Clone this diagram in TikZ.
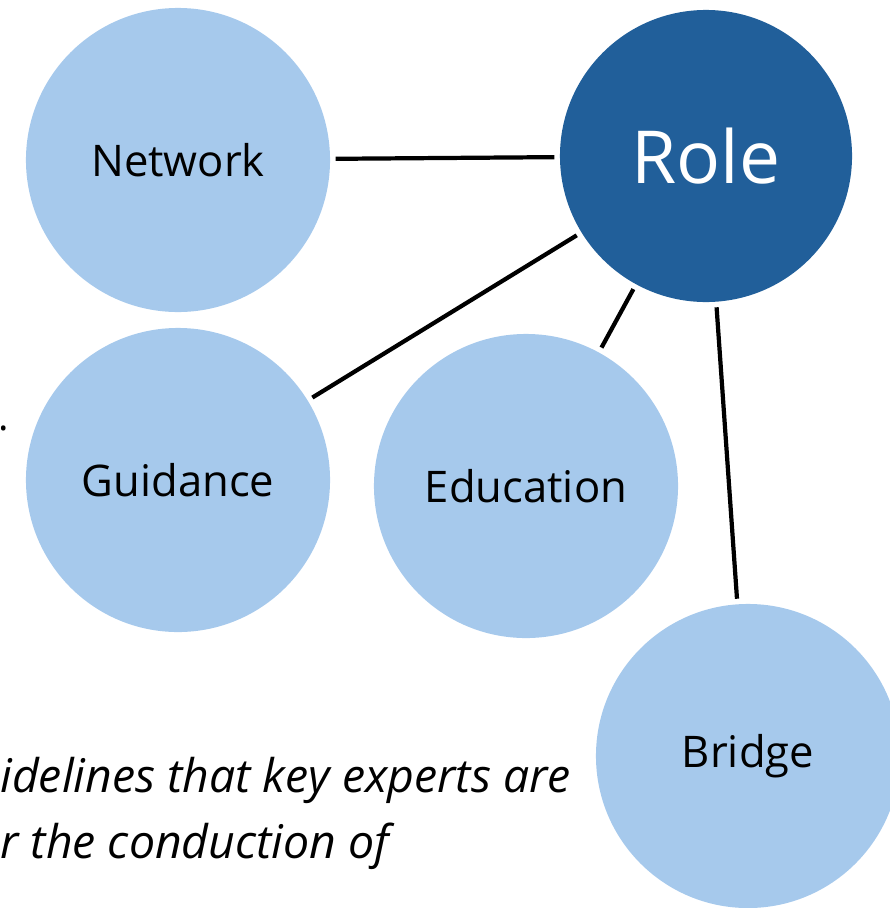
\documentclass[tikz,border=0pt]{standalone}
\usepackage{fontspec}
\setmainfont{Open Sans}
\usetikzlibrary{positioning,calc}

\definecolor{lightblue}{HTML}{A6C9EC}
\definecolor{darkblue}{HTML}{215F9A}

\begin{document}
\begin{tikzpicture}[x=0.025cm, y=-0.025cm, semithick]
        \tikzstyle{topic}=[circle, fill=lightblue, minimum size=7.6cm, inner sep=0pt, outer sep=4pt, text=black, font=\fontsize{31}{36}\selectfont]
        \tikzstyle{hub}=[circle, fill=darkblue, minimum size=7.3cm, inner sep=0pt, outer sep=4pt, text=white, font=\fontsize{52}{60}\selectfont]
        \tikzstyle{note}=[anchor=base west, inner sep=0pt, font=\fontsize{33}{40}\selectfont\itshape]
        \tikzstyle{link}=[draw, line width=3pt]
        \useasboundingbox (0,0) rectangle (889,908);

        \node[hub]      (role)      at (706,156)   {Role};
        \node[topic]    (network)   at (178,160)   {Network};
        \node[topic]    (guidance)  at (178,480)   {Guidance};
        \node[topic]    (education) at (526,486)   {Education};
        \node[topic]    (bridge)    at (748,756)   {Bridge};

        \node[note] (note1) at (0,792) {idelines that key experts are};
        \node[note] (note2) at (0,858) {r the conduction of};
        \node[anchor=base west, inner sep=0pt, font=\fontsize{28}{34}\selectfont] (dot) at (-2,430) {.};

        \draw[link] (role) -- (network);
        \draw[link] (role) -- (guidance);
        \draw[link] (role) -- (education);
        \draw[link] (role) -- (bridge);
    \end{tikzpicture}
\end{document}
